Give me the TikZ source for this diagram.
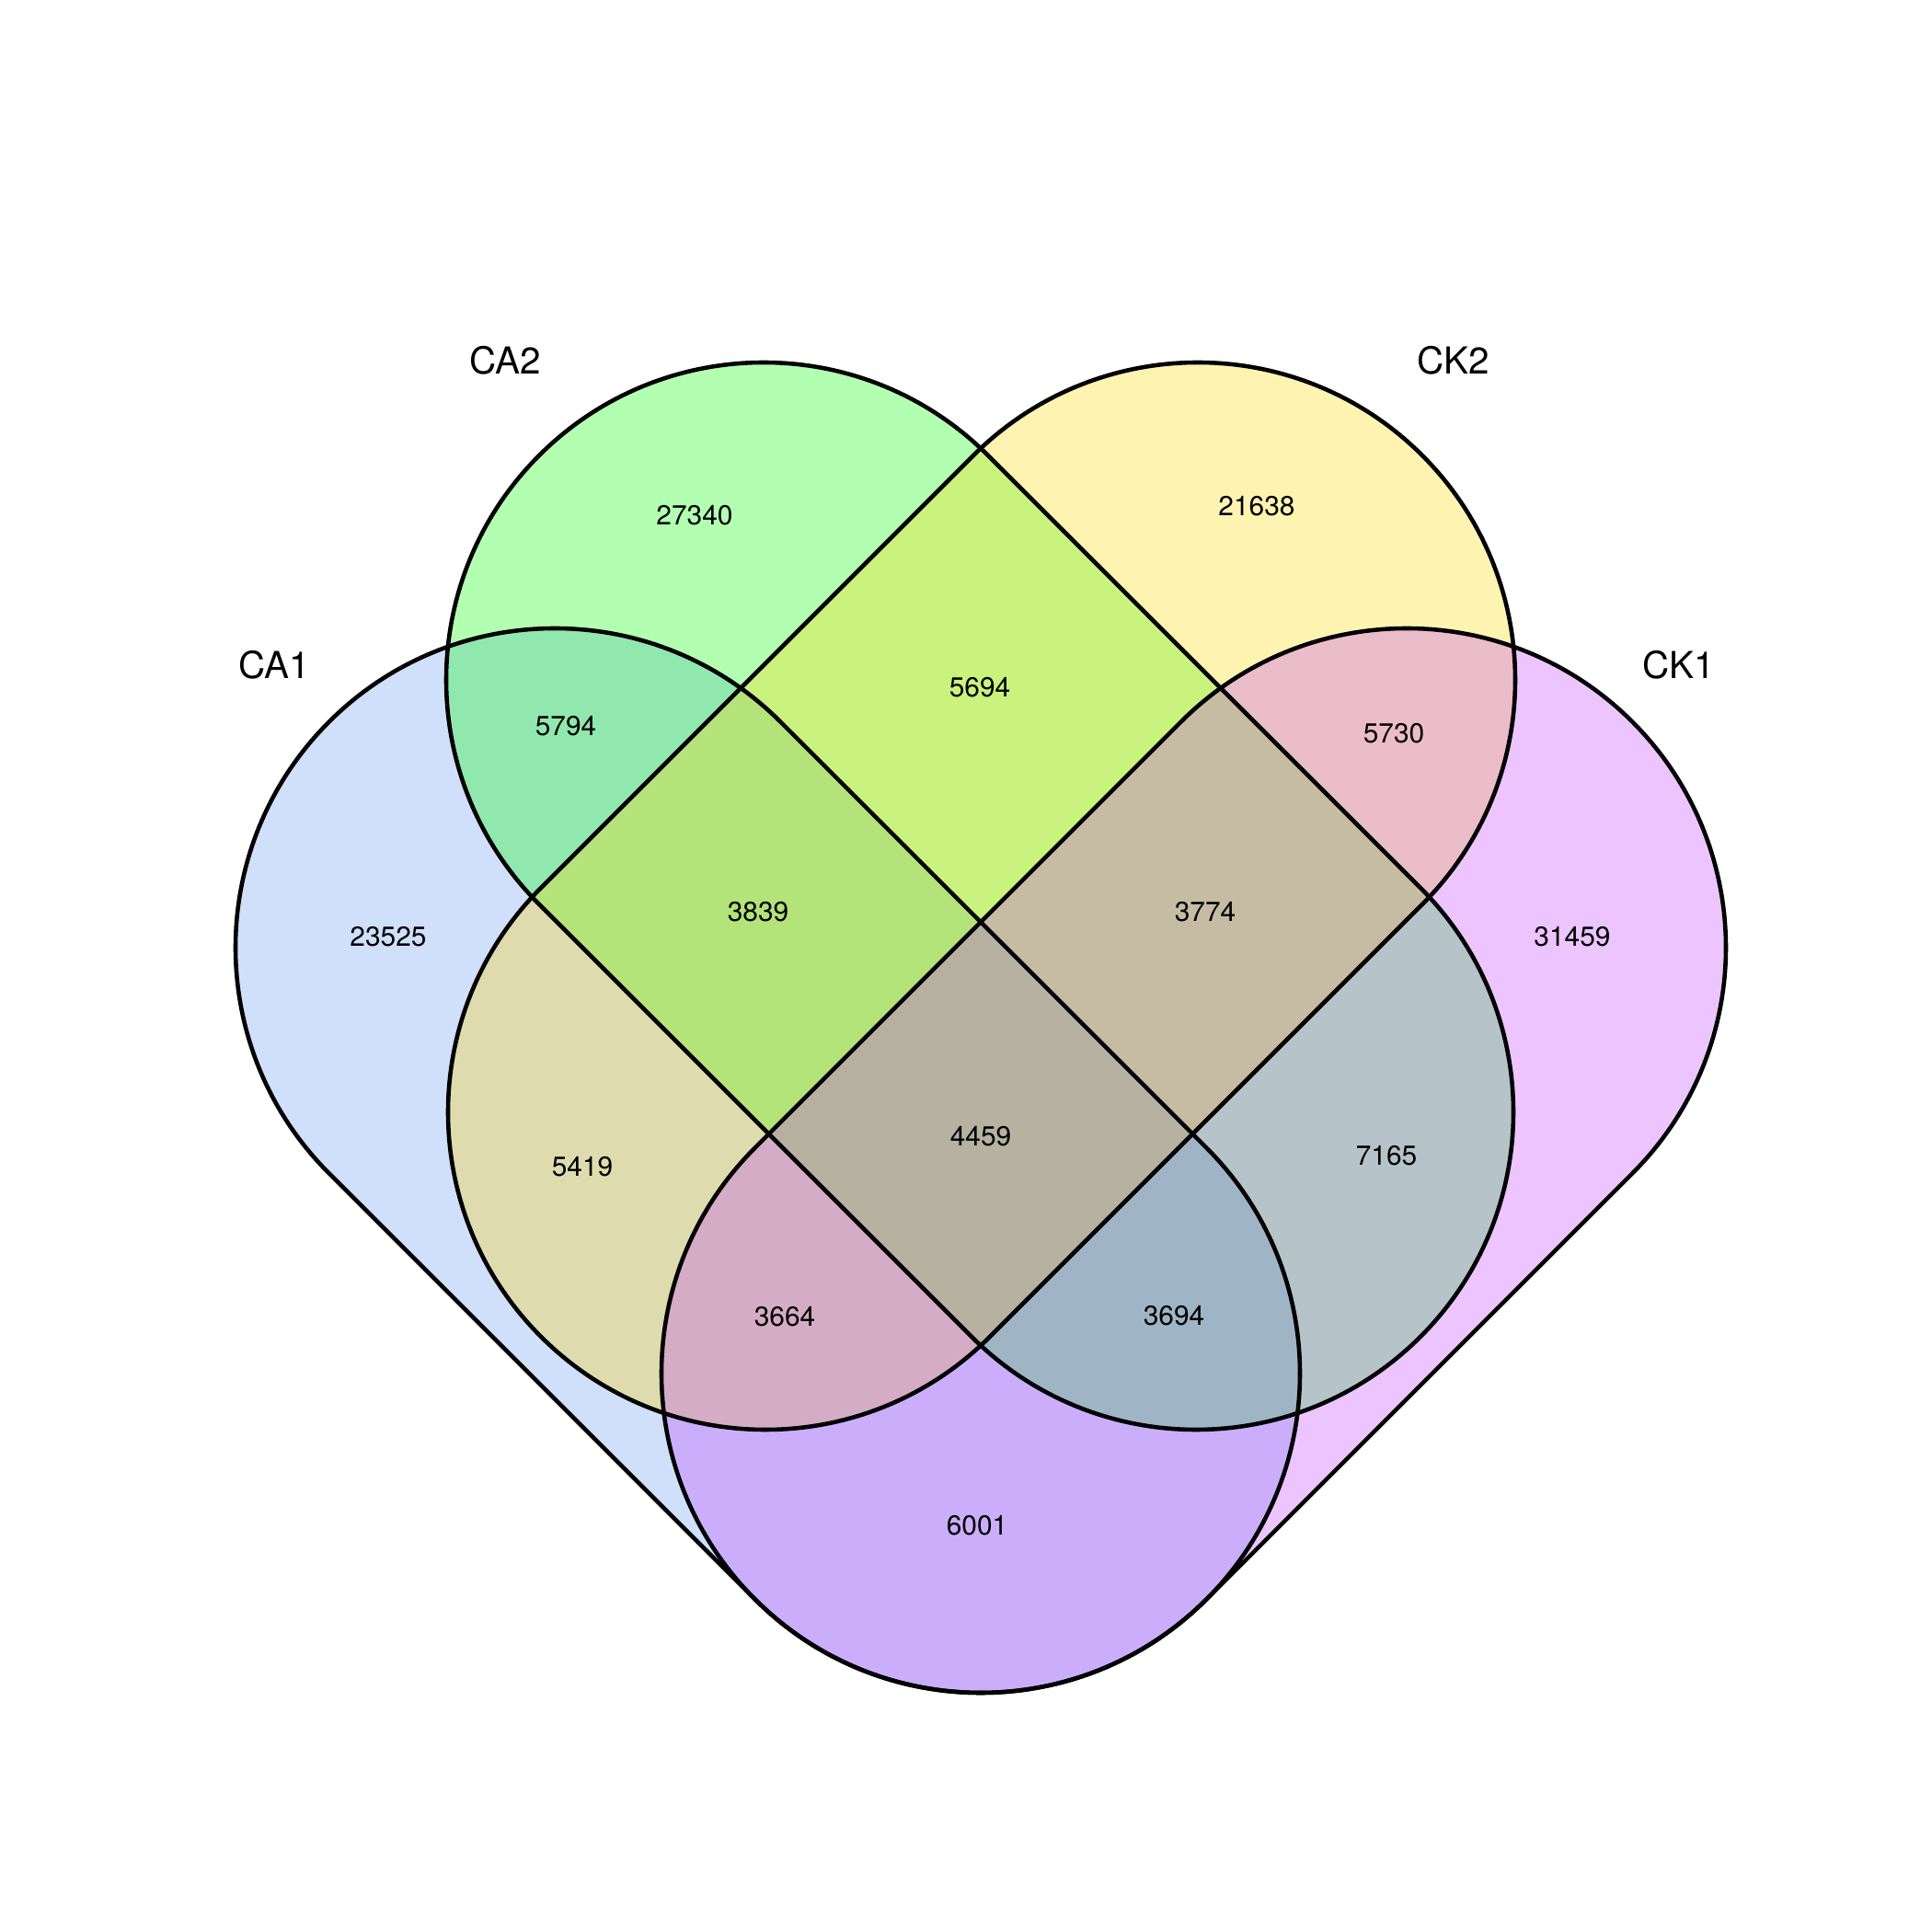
\documentclass[tikz,border=0pt]{standalone}
\usepackage{fontspec}
\setmainfont{TeX Gyre Heros}
\usetikzlibrary{calc, math}
\definecolor{setblue}{RGB}{100,149,237}
\definecolor{setgreen}{RGB}{0,255,0}
\definecolor{setgold}{RGB}{255,215,0}
\definecolor{setorchid}{RGB}{191,62,255}

\tikzset{
  setname/.style={inner sep=0, font=\fontsize{11.5}{13}\selectfont},
  count/.style={inner sep=0, font=\fontsize{8.5}{10}\selectfont},
  outline/.style={line width=1.3pt, line join=round},
}

\begin{document}
\begin{tikzpicture}
\tikzmath{
\Rout=3.47;    % radius of CA1 and CK1
\Rin=3.45;     % radius of CA2 and CK2
}
\useasboundingbox (0,0) rectangle (21,21);

% fills: CA1, CA2, CK2, CK1 (first end, second end, direction, radius, colour)
\foreach \ax/\ay/\bx/\by/\t/\R/\col in {
  6.03/10.70/10.66/6.07/-45/\Rout/setblue,
  8.30/13.61/13.00/8.91/-45/\Rin/setgreen,
  13.02/13.61/8.32/8.91/-135/\Rin/setgold,
  15.29/10.70/10.66/6.07/-135/\Rout/setorchid}{
  \fill[\col, fill opacity=0.3] (\ax,\ay) ++(\t+90:\R) arc[start angle=\t+90, end angle=\t+270, radius=\R]
    -- ($(\bx,\by)+(\t-90:\R)$) arc[start angle=\t-90, end angle=\t+90, radius=\R] -- cycle;
}
% outlines on top
\foreach \ax/\ay/\bx/\by/\t/\R in {
  6.03/10.70/10.66/6.07/-45/\Rout,
  8.30/13.61/13.00/8.91/-45/\Rin,
  13.02/13.61/8.32/8.91/-135/\Rin,
  15.29/10.70/10.66/6.07/-135/\Rout}{
  \draw[outline] (\ax,\ay) ++(\t+90:\R) arc[start angle=\t+90, end angle=\t+270, radius=\R]
    -- ($(\bx,\by)+(\t-90:\R)$) arc[start angle=\t-90, end angle=\t+90, radius=\R] -- cycle;
}

% set names
\node[setname] (CAone) at (2.98,13.77) {CA1};
\node[setname] (CAtwo) at (5.49,17.08) {CA2};
\node[setname] (CKtwo) at (15.80,17.08) {CK2};
\node[setname] (CKone) at (18.25,13.77) {CK1};

% counts
\foreach \nm/\x/\y/\v in {
  a/7.55/15.40/27340, b/13.66/15.50/21638,
  ab/6.15/13.11/5794, bc/10.65/13.53/5694, cd/15.15/13.03/5730,
  a0/4.22/10.82/23525, abc/8.24/11.09/3839, bcd/13.10/11.09/3774, d0/17.09/10.82/31459,
  abcd/10.66/8.65/4459, ac/6.33/8.32/5419, bd/15.07/8.44/7165,
  acd/8.53/6.69/3664, abd/12.76/6.70/3694, ad/10.62/4.42/6001}{
  \node[count] (n\nm) at (\x,\y) {\v};
}
\end{tikzpicture}
\end{document}
